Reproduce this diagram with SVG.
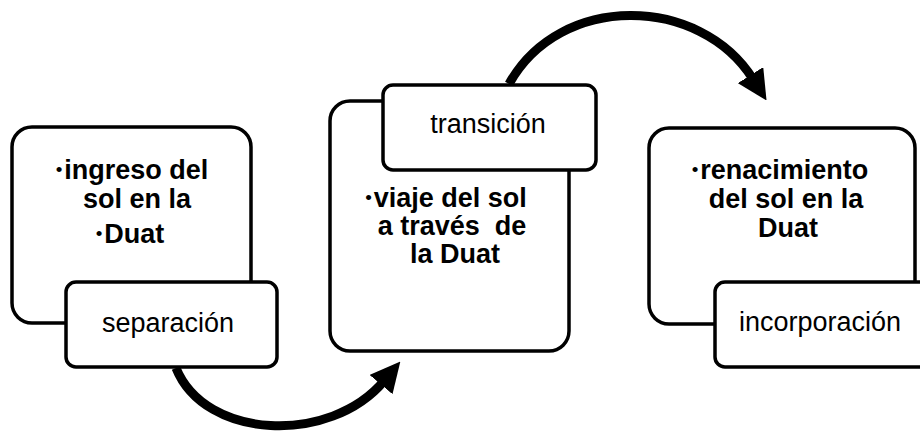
<svg xmlns="http://www.w3.org/2000/svg" width="920" height="433" viewBox="0 0 920 433">
<defs>
<marker id="ah" markerUnits="userSpaceOnUse" markerWidth="30" markerHeight="30" refX="4" refY="13" orient="auto" viewBox="0 0 26 26">
<path d="M0,0 L26,13 L0,26 z" fill="#000"/>
</marker>
<style>
.box{fill:#fff;stroke:#000;stroke-width:3.5}
.lbl{fill:#fff;stroke:#000;stroke-width:3.5}
.b{font-family:"Liberation Sans",Arial,sans-serif;font-weight:bold;font-size:27px;fill:#000;text-anchor:middle}
.n{font-family:"Liberation Sans",Arial,sans-serif;font-size:27px;fill:#000;text-anchor:middle}
.bu{font-size:19px;font-weight:normal}
.arc{fill:none;stroke:#000;stroke-width:9}
</style>
</defs>
<rect width="920" height="433" fill="#fff"/>
<g id="connectors">
<path class="arc" d="M176,368 C205,440 330,445 384,381" marker-end="url(#ah)"/>
<path class="arc" d="M509,84 C560,-8 700,-5 753,79" marker-end="url(#ah)"/>
</g>
<g id="node1">
<rect class="box" x="12" y="127" width="239" height="196" rx="20"/>
<text class="b" x="132" y="179"><tspan class="bu" dy="-3">•</tspan><tspan dx="2" dy="3">ingreso del</tspan></text>
<text class="b" x="137" y="208">sol en la</text>
<text class="b" x="130" y="243"><tspan class="bu" dy="-3">•</tspan><tspan dx="2" dy="3">Duat</tspan></text>
</g>
<g id="label1">
<rect class="lbl" x="66" y="282" width="211" height="85" rx="10"/>
<text class="n" x="168" y="332">separación</text>
</g>
<g id="node2">
<rect class="box" x="330" y="101" width="239" height="250" rx="20"/>
<text class="b" x="446" y="207"><tspan class="bu" dy="-3">•</tspan><tspan dx="2" dy="3">viaje del sol</tspan></text>
<text class="b" x="452" y="235" xml:space="preserve">a través  de</text>
<text class="b" x="455" y="263">la Duat</text>
</g>
<g id="label2">
<rect class="lbl" x="383" y="85" width="213" height="85" rx="10"/>
<text class="n" x="488" y="133">transición</text>
</g>
<g id="node3">
<rect class="box" x="649" y="128" width="266" height="196" rx="20"/>
<text class="b" x="780" y="179"><tspan class="bu" dy="-3">•</tspan><tspan dx="2" dy="3">renacimiento</tspan></text>
<text class="b" x="786" y="208">del sol en la</text>
<text class="b" x="788" y="237">Duat</text>
</g>
<g id="label3">
<rect class="lbl" x="715" y="282" width="215" height="85" rx="10"/>
<text class="n" x="820" y="331">incorporación</text>
</g>
</svg>
